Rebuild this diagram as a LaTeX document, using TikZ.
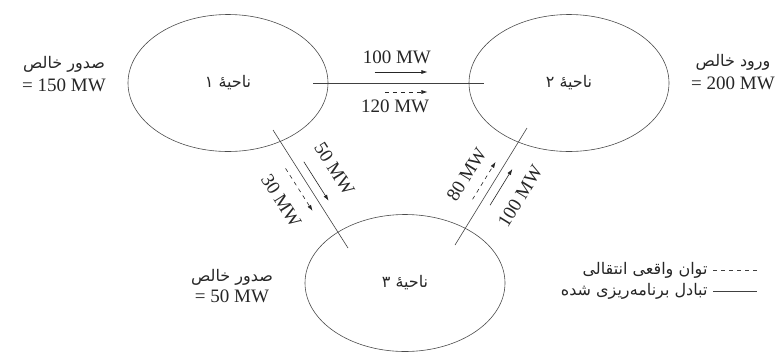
\documentclass[tikz,border=0pt]{standalone}
\usepackage{fontspec}
\setmainfont{Liberation Serif}
\newfontfamily\arabicfont[Script=Arabic]{DejaVu Sans}
\TeXXeTstate=1
\usetikzlibrary{shapes.geometric,arrows.meta,calc,positioning}

\begin{document}
\begin{tikzpicture}[x=1pt,y=-1pt,
  area/.style={ellipse,draw=black!70,line width=0.6pt,minimum width=200pt,minimum height=137pt,inner sep=0pt},
  tie/.style={draw=black!75,line width=0.6pt},
  sched/.style={-{Latex[length=6pt,width=4pt]},line width=0.6pt,black!85},
  actual/.style={sched,dash pattern=on 4pt off 4pt},
  fa/.style={font=\arabicfont\fontsize{16}{18}\selectfont,text=black!85},
  mw/.style={font=\fontsize{19}{21}\selectfont,inner sep=1pt,text=black!85}]
  \useasboundingbox (0,0) rectangle (784,354);
  % areas
  \node[area,fa] (a1) at (228,83) {\beginR ناحیهٔ ۱\endR};
  \node[area,fa] (a2) at (569,83) {\beginR ناحیهٔ ۲\endR};
  \node[area,fa] (a3) at (405,283) {\beginR ناحیهٔ ۳\endR};
  % net interchange
  \node[fa] (n1) at (64,64) {\beginR صدور خالص\endR};
  \node[mw,below=2pt of n1] (v1) {= 150 MW};
  \node[fa] (n2) at (733,62) {\beginR ورود خالص\endR};
  \node[mw,below=2pt of n2] (v2) {= 200 MW};
  \node[fa] (n3) at (232,277) {\beginR صدور خالص\endR};
  \node[mw,below=0pt of n3] (v3) {= 50 MW};
  % tie lines
  \coordinate (p12) at ($(a1.east)+(-15,0)$);
  \coordinate (q12) at ($(a2.west)+(15,0)$);
  \coordinate (p13) at ($(a1)+(45,47)$);
  \coordinate (q13) at ($(a3)+(-57,-35)$);
  \coordinate (p23) at ($(a3)+(50,-38)$);
  \coordinate (q23) at ($(a2)+(-42,45)$);
  \draw[tie] (p12) -- (q12);
  \draw[tie] (p13) -- (q13);
  \draw[tie] (p23) -- (q23);
  % 1 -> 2
  \draw[sched] ($(p12)!.36!(q12)!11pt!90:(q12)$) -- ($(p12)!.67!(q12)!11pt!90:(q12)$);
  \draw[actual] ($(p12)!.42!(q12)!-9pt!90:(q12)$) -- ($(p12)!.67!(q12)!-9pt!90:(q12)$);
  \node[mw] (s12) at ($(p12)!.49!(q12)!26pt!90:(q12)$) {100 MW};
  \node[mw] (r12) at ($(p12)!.48!(q12)!-23pt!90:(q12)$) {120 MW};
  % 1 -> 3
  \draw[sched] ($(p13)!.31!(q13)!9pt!90:(q13)$) -- ($(p13)!.64!(q13)!9pt!90:(q13)$);
  \draw[actual] ($(p13)!.28!(q13)!-10pt!90:(q13)$) -- ($(p13)!.64!(q13)!-10pt!90:(q13)$);
  \node[mw,rotate=-57.6] (s13) at ($(p13)!.47!(q13)!31pt!90:(q13)$) {50 MW};
  \node[mw,rotate=-57.6] (r13) at ($(p13)!.46!(q13)!-31pt!90:(q13)$) {30 MW};
  % 3 -> 2
  \draw[actual] ($(p23)!.35!(q23)!9pt!90:(q23)$) -- ($(p23)!.67!(q23)!9pt!90:(q23)$);
  \draw[sched] ($(p23)!.38!(q23)!-9pt!90:(q23)$) -- ($(p23)!.69!(q23)!-9pt!90:(q23)$);
  \node[mw,rotate=58.4] (r23) at ($(p23)!.48!(q23)!27pt!90:(q23)$) {80 MW};
  \node[mw,rotate=58.4] (s23) at ($(p23)!.55!(q23)!-30pt!90:(q23)$) {100 MW};
  % legend
  \coordinate (k1) at (713,270);
  \coordinate (k2) at (713,291);
  \draw[tie,dash pattern=on 4pt off 4pt] (k1) -- ++(44,0);
  \draw[tie] (k2) -- ++(44,0);
  \node[fa,left=2pt of k1] (lg1) {\beginR توان واقعی انتقالی\endR};
  \node[fa,left=2pt of k2] (lg2) {\beginR تبادل برنامه‌ریزی شده\endR};
\end{tikzpicture}
\end{document}
